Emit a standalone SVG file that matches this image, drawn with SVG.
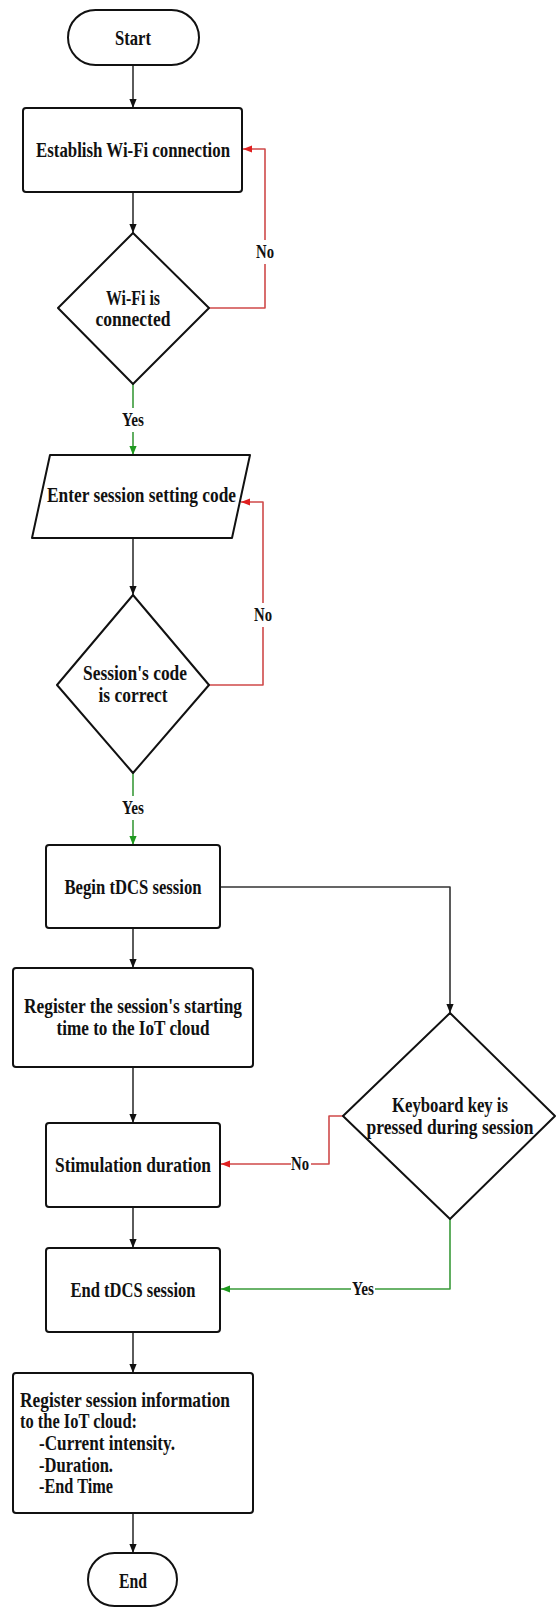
<svg xmlns="http://www.w3.org/2000/svg" width="556" height="1608" viewBox="0 0 556 1608">
<style>
.shape{fill:#fff;stroke:#111;stroke-width:2;stroke-linejoin:round}
.t{font-family:"Liberation Serif",serif;font-weight:bold;font-size:21px;fill:#111;text-anchor:middle}
.tl{font-family:"Liberation Serif",serif;font-weight:bold;font-size:21px;fill:#111;text-anchor:start}
.c{fill:none;stroke:#333;stroke-width:1.6;stroke-linejoin:round}
.cr{fill:none;stroke:#cf4a4a;stroke-width:1.6;stroke-linejoin:round}
.cg{fill:none;stroke:#3a9a3a;stroke-width:1.6;stroke-linejoin:round}
.lbl{font-family:"Liberation Serif",serif;font-weight:bold;font-size:18px;fill:#111;text-anchor:middle}
.bg{fill:#fff}
</style>
<defs>
<marker id="ak" markerUnits="userSpaceOnUse" markerWidth="9" markerHeight="9" viewBox="0 0 10 10" refX="10" refY="5" orient="auto"><path d="M0,1 L10,5 L0,9 z" fill="#111"/></marker>
<marker id="ar" markerUnits="userSpaceOnUse" markerWidth="9" markerHeight="9" viewBox="0 0 10 10" refX="10" refY="5" orient="auto"><path d="M0,1 L10,5 L0,9 z" fill="#e01f1f"/></marker>
<marker id="ag" markerUnits="userSpaceOnUse" markerWidth="9" markerHeight="9" viewBox="0 0 10 10" refX="10" refY="5" orient="auto"><path d="M0,1 L10,5 L0,9 z" fill="#1f9a1f"/></marker>
</defs>

<g id="connectors">
<path class="c" d="M133,65 L133,108" marker-end="url(#ak)"/>
<path class="c" d="M133,192 L133,233" marker-end="url(#ak)"/>
<path class="cr" d="M209,308 L265,308 L265,149 L243,149" marker-end="url(#ar)"/>
<path class="cg" d="M133,384 L133,455" marker-end="url(#ag)"/>
<path class="c" d="M133,538 L133,595" marker-end="url(#ak)"/>
<path class="cr" d="M209,685 L263,685 L263,502 L241,502" marker-end="url(#ar)"/>
<path class="cg" d="M133,773 L133,845" marker-end="url(#ag)"/>
<path class="c" d="M220,887 L450,887 L450,1013" marker-end="url(#ak)"/>
<path class="c" d="M133,928 L133,968" marker-end="url(#ak)"/>
<path class="c" d="M133,1067 L133,1123" marker-end="url(#ak)"/>
<path class="cr" d="M343,1116 L329,1116 L329,1164 L221,1164" marker-end="url(#ar)"/>
<path class="c" d="M133,1207 L133,1248" marker-end="url(#ak)"/>
<path class="cg" d="M450,1219 L450,1289 L221,1289" marker-end="url(#ag)"/>
<path class="c" d="M133,1332 L133,1373" marker-end="url(#ak)"/>
<path class="c" d="M133,1513 L133,1553" marker-end="url(#ak)"/>
<rect class="bg" x="255" y="240" width="20" height="24"/>
<text class="lbl" x="265" y="258" textLength="18" lengthAdjust="spacingAndGlyphs">No</text>
<rect class="bg" x="253" y="603" width="20" height="24"/>
<text class="lbl" x="263" y="621" textLength="18" lengthAdjust="spacingAndGlyphs">No</text>
<rect class="bg" x="121" y="408" width="24" height="24"/>
<text class="lbl" x="133" y="426" textLength="22" lengthAdjust="spacingAndGlyphs">Yes</text>
<rect class="bg" x="121" y="796" width="24" height="24"/>
<text class="lbl" x="133" y="814" textLength="22" lengthAdjust="spacingAndGlyphs">Yes</text>
<rect class="bg" x="291" y="1153" width="20" height="22"/>
<text class="lbl" x="300" y="1170" textLength="18" lengthAdjust="spacingAndGlyphs">No</text>
<rect class="bg" x="351" y="1278" width="24" height="22"/>
<text class="lbl" x="363" y="1295" textLength="22" lengthAdjust="spacingAndGlyphs">Yes</text>
</g>

<g id="start">
<rect class="shape" x="68" y="10" width="131" height="55" rx="27.5"/>
<text class="t" x="133" y="45" textLength="36" lengthAdjust="spacingAndGlyphs">Start</text>
</g>
<g id="establish">
<rect class="shape" x="23" y="108" width="219" height="84" rx="3"/>
<text class="t" x="133" y="157" textLength="194" lengthAdjust="spacingAndGlyphs">Establish Wi-Fi connection</text>
</g>
<g id="wifi-connected">
<polygon class="shape" points="133,233 209,308 133,384 58,308"/>
<text class="t" x="133" y="305" textLength="54" lengthAdjust="spacingAndGlyphs">Wi-Fi is</text>
<text class="t" x="133" y="326" textLength="75" lengthAdjust="spacingAndGlyphs">connected</text>
</g>
<g id="enter-code">
<polygon class="shape" points="50,455 250,455 232,538 32,538"/>
<text class="t" x="141.5" y="502" textLength="189" lengthAdjust="spacingAndGlyphs">Enter session setting code</text>
</g>
<g id="code-correct">
<polygon class="shape" points="133,595 209,685 133,773 57,685"/>
<text class="t" x="135" y="680" textLength="104" lengthAdjust="spacingAndGlyphs">Session's code</text>
<text class="t" x="133" y="702" textLength="69" lengthAdjust="spacingAndGlyphs">is correct</text>
</g>
<g id="begin">
<rect class="shape" x="46" y="845" width="174" height="83" rx="3"/>
<text class="t" x="133" y="894" textLength="137" lengthAdjust="spacingAndGlyphs">Begin tDCS session</text>
</g>
<g id="register-start">
<rect class="shape" x="13" y="968" width="240" height="99" rx="3"/>
<text class="t" x="133" y="1013" textLength="218" lengthAdjust="spacingAndGlyphs">Register the session's starting</text>
<text class="t" x="133" y="1035" textLength="153" lengthAdjust="spacingAndGlyphs">time to the IoT cloud</text>
</g>
<g id="stimulation">
<rect class="shape" x="46" y="1123" width="174" height="84" rx="3"/>
<text class="t" x="133" y="1172" textLength="156" lengthAdjust="spacingAndGlyphs">Stimulation duration</text>
</g>
<g id="keyboard">
<polygon class="shape" points="450,1013 555,1116 450,1219 343,1116"/>
<text class="t" x="450" y="1112" textLength="116" lengthAdjust="spacingAndGlyphs">Keyboard key is</text>
<text class="t" x="450" y="1134" textLength="167" lengthAdjust="spacingAndGlyphs">pressed during session</text>
</g>
<g id="end-session">
<rect class="shape" x="46" y="1248" width="174" height="84" rx="3"/>
<text class="t" x="133" y="1297" textLength="125" lengthAdjust="spacingAndGlyphs">End tDCS session</text>
</g>
<g id="register-info">
<rect class="shape" x="13" y="1373" width="240" height="140" rx="3"/>
<text class="tl" x="20" y="1407" textLength="210" lengthAdjust="spacingAndGlyphs">Register session information</text>
<text class="tl" x="20" y="1428" textLength="117" lengthAdjust="spacingAndGlyphs">to the IoT cloud:</text>
<text class="tl" x="39" y="1450" textLength="136" lengthAdjust="spacingAndGlyphs">-Current intensity.</text>
<text class="tl" x="39" y="1472" textLength="74" lengthAdjust="spacingAndGlyphs">-Duration.</text>
<text class="tl" x="39" y="1493" textLength="74" lengthAdjust="spacingAndGlyphs">-End Time</text>
</g>
<g id="end">
<rect class="shape" x="88" y="1553" width="89" height="53" rx="26.5"/>
<text class="t" x="133" y="1588" textLength="28" lengthAdjust="spacingAndGlyphs">End</text>
</g>
</svg>
